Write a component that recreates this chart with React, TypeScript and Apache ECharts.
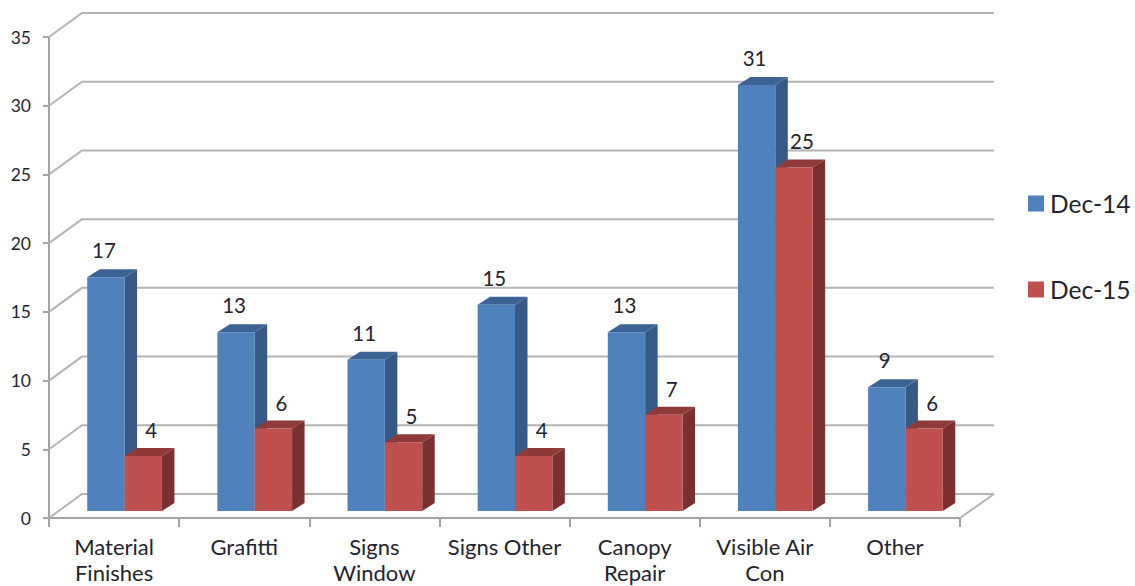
import React, { useEffect, useRef } from "react";
import * as echarts from "echarts";

const categories = [
  "Material\nFinishes",
  "Grafitti",
  "Signs\nWindow",
  "Signs Other",
  "Canopy\nRepair",
  "Visible Air\nCon",
  "Other",
];
const dec14 = [17, 13, 11, 15, 13, 31, 9];
const dec15 = [4, 6, 5, 4, 7, 25, 6];
const yTicks = [0, 5, 10, 15, 20, 25, 30, 35];

const FONT = "Lato";
const TEXT = "#1f2430";
const GRID = "#b4b4b4";
const AXIS = "#a3a3a3";

const WALL_DX = 33;
const WALL_DY = -24;
const BAR_DX = 12.5;
const BAR_DY = -8;
const FLOOR_SHIFT_X = 10.5;
const FLOOR_SHIFT_Y = -7;

function wallItem(_params: any, api: any) {
  const p = api.coord([0, api.value(1)]);
  const band = api.size([1, 0])[0];
  const x0 = p[0] - band / 2;
  const xEnd = x0 + band * categories.length;
  const y = p[1];
  const children: any[] = [
    {
      type: "polyline",
      shape: {
        points: [
          [x0, y],
          [x0 + WALL_DX, y + WALL_DY],
          [xEnd + WALL_DX + 1, y + WALL_DY],
        ],
      },
      style: { stroke: GRID, lineWidth: 2, fill: "none" },
    },
  ];
  if (api.value(1) === 0) {
    children.push({
      type: "line",
      shape: { x1: xEnd, y1: y, x2: xEnd + WALL_DX + 1, y2: y + WALL_DY },
      style: { stroke: GRID, lineWidth: 2 },
    });
  }
  return { type: "group", children };
}

function barItem(offsetIndex: number, front: string, side: string, top: string, labelDx: number, labelDy: number) {
  return (_params: any, api: any) => {
    const idx = api.value(0);
    const val = api.value(1);
    const band = api.size([1, 0])[0];
    const w = band * 0.287;
    const c = api.coord([idx, val]);
    const b = api.coord([idx, 0]);
    const x0 = c[0] + FLOOR_SHIFT_X - w + offsetIndex * w;
    const x1 = x0 + w;
    const yB = b[1] + FLOOR_SHIFT_Y;
    const yT = c[1] + FLOOR_SHIFT_Y;
    return {
      type: "group",
      children: [
        {
          type: "polygon",
          shape: {
            points: [
              [x1, yT],
              [x1 + BAR_DX, yT + BAR_DY],
              [x1 + BAR_DX, yB + BAR_DY],
              [x1, yB],
            ],
          },
          style: { fill: side },
        },
        {
          type: "polygon",
          shape: {
            points: [
              [x0, yT],
              [x0 + BAR_DX, yT + BAR_DY],
              [x1 + BAR_DX, yT + BAR_DY],
              [x1, yT],
            ],
          },
          style: { fill: top },
        },
        {
          type: "rect",
          shape: { x: x0, y: yT, width: w, height: yB - yT },
          style: { fill: front },
        },
        {
          type: "text",
          style: {
            text: String(val),
            x: (x0 + x1) / 2 + labelDx,
            y: yT + labelDy,
            align: "center",
            verticalAlign: "middle",
            fontSize: 20.5,
            fontFamily: FONT,
            fill: TEXT,
          },
        },
      ],
    };
  };
}

export default function App() {
  const ref = useRef<HTMLDivElement>(null);
  useEffect(() => {
    const chart = echarts.init(ref.current!, undefined, { renderer: "svg" });
    chart.setOption({
      animation: false,
      backgroundColor: "#ffffff",
      grid: { left: 49, top: 37, width: 911, height: 481, outerBoundsMode: "none" },
      legend: {
        data: ["Dec-14", "Dec-15"],
        orient: "vertical",
        left: 1023,
        top: 186,
        itemWidth: 16,
        itemHeight: 16,
        itemGap: 61,
        icon: "rect",
        selectedMode: false,
        textStyle: { fontSize: 24.5, fontFamily: FONT, color: TEXT, padding: [0, 0, 0, 1] },
      },
      xAxis: {
        type: "category",
        data: categories,
        axisLine: { lineStyle: { color: AXIS, width: 2 } },
        axisTick: { show: true, length: 9, lineStyle: { color: AXIS, width: 2 } },
        axisLabel: {
          interval: 0,
          margin: 15,
          fontSize: 22,
          lineHeight: 26,
          fontFamily: FONT,
          color: TEXT,
        },
      },
      yAxis: {
        type: "value",
        min: 0,
        max: 35,
        interval: 5,
        splitLine: { show: false },
        axisLine: { show: true, lineStyle: { color: AXIS, width: 2 } },
        axisTick: { show: true, length: 6, lineStyle: { color: AXIS, width: 2 } },
        axisLabel: {
          margin: 18,
          fontSize: 17.5,
          fontFamily: FONT,
          color: TEXT,
          formatter: (v: number) => (yTicks.includes(v) ? String(v) : ""),
        },
      },
      series: [
        {
          name: "walls",
          type: "custom",
          z: 1,
          silent: true,
          renderItem: wallItem,
          data: yTicks.map((v) => [0, v]),
        },
        {
          name: "Dec-14",
          type: "custom",
          z: 3,
          silent: true,
          itemStyle: { color: "#4F81BD" },
          renderItem: barItem(0, "#4F81BD", "#365A85", "#3B6494", -2, -27),
          data: dec14.map((v, i) => [i, v]),
        },
        {
          name: "Dec-15",
          type: "custom",
          z: 4,
          silent: true,
          itemStyle: { color: "#C0504D" },
          renderItem: barItem(1, "#C0504D", "#7B3030", "#8F3A38", 8, -26),
          data: dec15.map((v, i) => [i, v]),
        },
      ],
    });
    return () => chart.dispose();
  }, []);
  return (
    <div
      ref={ref}
      style={{ position: "absolute", left: 0, top: 0, width: 1135, height: 586 }}
    />
  );
}
